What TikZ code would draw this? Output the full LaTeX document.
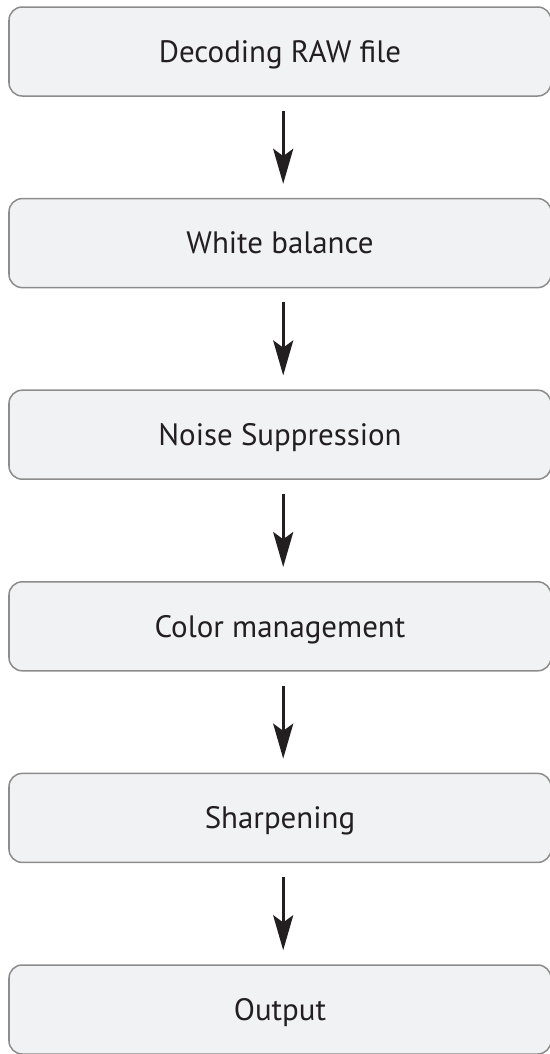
\documentclass[tikz,border=0pt]{standalone}
\usepackage{fontspec}
\setmainfont{PT Sans}
\usepackage{tikz}
\usetikzlibrary{arrows.meta,positioning}
\definecolor{rawtext}{RGB}{35,31,32}
\definecolor{rawfill}{RGB}{241,242,244}
\definecolor{rawedge}{RGB}{140,140,140}

\begin{document}
\begin{tikzpicture}[
    stage/.style={draw=rawedge,rounded corners=0.33cm,fill=rawfill,
                  minimum width=13.55cm,minimum height=2.225cm,
                  line width=0.0375cm,align=center,text=rawtext,
                  text height=0.54cm,text depth=0pt,
                  font=\fontsize{22}{26}\selectfont},
    flow/.style={-{Stealth[length=0.875cm,width=0.5cm,inset=0.18cm]},
                 line width=0.075cm,color=rawtext,
                 shorten <=0.35cm,shorten >=0.35cm}]
    \useasboundingbox (0,0) rectangle (13.75,-26.35);
    \node[stage] (raw)     at (7.0,-1.2875)  {Decoding RAW file};
    \node[stage] (balance) at (7.0,-6.0775)  {White balance};
    \node[stage] (noise)   at (7.0,-10.8675) {Noise Suppression};
    \node[stage] (color)   at (7.0,-15.6575) {Color management};
    \node[stage] (sharp)   at (7.0,-20.4475) {Sharpening};
    \node[stage] (out)     at (7.0,-25.2375) {Output};
    \draw[flow] ([xshift=0.08cm]raw.south)     -- ([xshift=0.08cm]balance.north);
    \draw[flow] ([xshift=0.08cm]balance.south) -- ([xshift=0.08cm]noise.north);
    \draw[flow] ([xshift=0.08cm]noise.south)   -- ([xshift=0.08cm]color.north);
    \draw[flow] ([xshift=0.08cm]color.south)   -- ([xshift=0.08cm]sharp.north);
    \draw[flow] ([xshift=0.08cm]sharp.south)   -- ([xshift=0.08cm]out.north);
  \end{tikzpicture}
\end{document}
